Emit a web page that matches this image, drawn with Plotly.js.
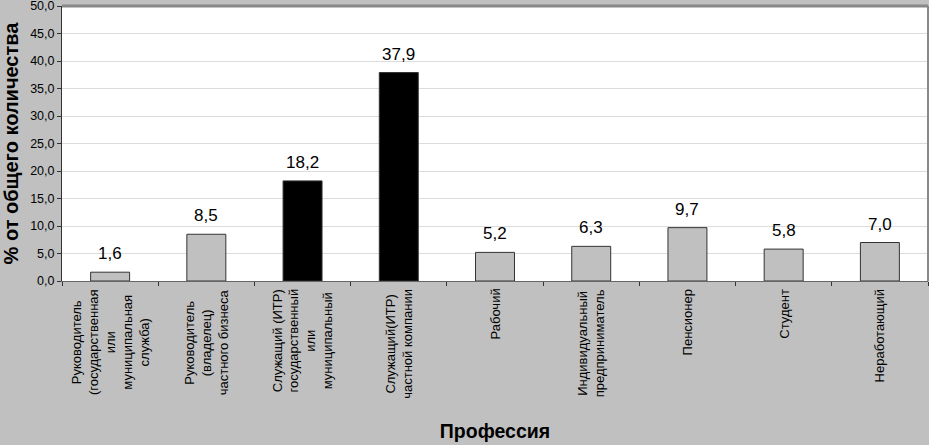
<!DOCTYPE html>
<html>
<head>
<meta charset="utf-8">
<script src="https://cdn.plot.ly/plotly-3.0.1.min.js"></script>
<style>html,body{margin:0;padding:0;background:#c0c0c0;}#chart{width:929px;height:445px;}</style>
</head>
<body>
<div id="chart"></div>
<script>
const categories = [
  "Руководитель<br>(государственная<br>или<br>муниципальная<br>служба)",
  "Руководитель<br>(владелец)<br>частного бизнеса",
  "Служащий (ИТР)<br>государственный<br>или<br>муниципальный",
  "Служащий(ИТР)<br>частной компании",
  "Рабочий",
  "Индивидуальный<br>предприниматель",
  "Пенсионер",
  "Студент",
  "Неработающий"
];
const values = [1.6, 8.5, 18.2, 37.9, 5.2, 6.3, 9.7, 5.8, 7.0];
const highlighted = [false, false, true, true, false, false, false, false, false];
const yTicks = [0, 5, 10, 15, 20, 25, 30, 35, 40, 45, 50];
const yTitle = "% от общего количества";
const xTitle = "Профессия";

const fmt = v => v.toFixed(1).replace('.', ',');
const FONT = 'Liberation Sans, Arial, sans-serif';

const trace = {
  type: 'bar',
  x: categories,
  y: values,
  marker: {
    color: highlighted.map(h => h ? '#000000' : '#c0c0c0'),
    line: {color: '#333333', width: 1}
  },
  hoverinfo: 'none'
};

const annotations = [];
values.forEach((v, i) => {
  annotations.push({
    x: categories[i], y: v, xref: 'x', yref: 'y',
    text: fmt(v), showarrow: false,
    yanchor: 'bottom', yshift: 7,
    font: {family: FONT, size: 17, color: '#000'}
  });
});
categories.forEach((c, i) => {
  annotations.push({
    x: c, y: 0, xref: 'x', yref: 'paper',
    text: c, showarrow: false, textangle: -90,
    xanchor: 'center', yanchor: 'top', yshift: -6, align: 'center',
    font: {family: FONT, size: 13, color: '#000'}
  });
});

const layout = {
  width: 929, height: 445,
  margin: {l: 62, r: 1, t: 6, b: 164},
  paper_bgcolor: '#c0c0c0',
  plot_bgcolor: '#ffffff',
  separators: ', ',
  bargap: 0.595,
  showlegend: false,
  font: {family: FONT, color: '#000'},
  xaxis: {
    type: 'category',
    showticklabels: false,
    tickson: 'boundaries', ticks: 'outside', ticklen: 4, tickcolor: '#333',
    showline: true, linecolor: '#666', linewidth: 1,
    showgrid: false, zeroline: false, fixedrange: true,
    automargin: false,
    title: {text: xTitle, font: {size: 19.5, weight: 'bold'}, standoff: 143}
  },
  yaxis: {
    range: [0, 50], tickmode: 'array', tickvals: yTicks,
    ticktext: yTicks.map(fmt),
    ticks: 'outside', ticklen: 4, tickcolor: '#333',
    ticklabeloverflow: 'allow',
    showline: true, linecolor: '#333', linewidth: 1,
    gridcolor: '#dcdcdc', gridwidth: 1, zeroline: false,
    tickfont: {size: 12.5, color: '#000'},
    automargin: false,
    title: {text: yTitle, font: {size: 20, weight: 'bold'}, standoff: 6}
  },
  shapes: [
    {type: 'line', xref: 'paper', yref: 'paper', x0: 0, x1: 1, y0: 1, y1: 1, line: {color: '#888', width: 3}},
    {type: 'line', xref: 'paper', yref: 'paper', x0: 1, x1: 1, y0: 0, y1: 1, line: {color: '#888', width: 2}}
  ],
  annotations: annotations
};

Plotly.newPlot('chart', [trace], layout, {displayModeBar: false, staticPlot: true});
</script>
</body>
</html>
